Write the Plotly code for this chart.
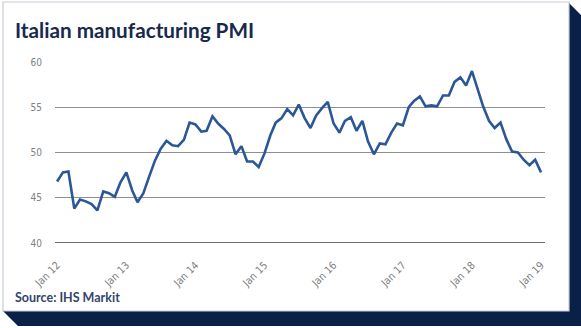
import plotly.graph_objects as go
import pandas as pd

# Monthly Italian manufacturing PMI, Jan 2012 - Jan 2019
months = pd.date_range("2012-01-01", "2019-01-01", freq="MS").strftime("%Y-%m-%d").tolist()
pmi = [
    46.8, 47.8, 47.9, 43.8, 44.8, 44.6, 44.3, 43.6, 45.7, 45.5, 45.1, 46.7,   # 2012
    47.8, 45.8, 44.5, 45.5, 47.3, 49.1, 50.4, 51.3, 50.8, 50.7, 51.4, 53.3,   # 2013
    53.1, 52.3, 52.4, 54.0, 53.2, 52.6, 51.9, 49.8, 50.7, 49.0, 49.0, 48.4,   # 2014
    49.9, 51.9, 53.3, 53.8, 54.8, 54.1, 55.3, 53.8, 52.7, 54.1, 54.9, 55.6,   # 2015
    53.2, 52.2, 53.5, 53.9, 52.4, 53.5, 51.2, 49.8, 51.0, 50.9, 52.2, 53.2,   # 2016
    53.0, 55.0, 55.7, 56.2, 55.1, 55.2, 55.1, 56.3, 56.3, 57.8, 58.3, 57.4,   # 2017
    59.0, 56.8, 55.1, 53.5, 52.7, 53.3, 51.5, 50.1, 50.0, 49.2, 48.6, 49.2,   # 2018
    47.8,                                                                     # 2019
]
tick_dates = ["2012-01-01", "2013-01-01", "2014-01-01", "2015-01-01",
              "2016-01-01", "2017-01-01", "2018-01-01", "2019-01-01"]
tick_labels = ["Jan 12", "Jan 13", "Jan 14", "Jan 15", "Jan 16", "Jan 17", "Jan 18", "Jan 19"]
y_ticks = [40, 45, 50, 55, 60]

W, H = 581, 328
L, R, T, B = 55, 545, 62, 243  # plot area in pixels


def xp(px):
    return (px - L) / (R - L)


def yp(py):
    return (B - py) / (B - T)


NAVY = "#0b2049"
LINE = "#2c5797"
COND = "DejaVu Sans Condensed, sans-serif"

fig = go.Figure()
fig.add_trace(go.Scatter(
    x=months, y=pmi, mode="lines",
    line=dict(color=LINE, width=2.6),
    hoverinfo="skip", showlegend=False,
))

shapes = []
# shadow
sx = [569, 581, 581, 18, 3, 569]
sy = [3, 15, 326, 326, 311, 311]
path = "M " + " L ".join(f"{xp(a):.5f},{yp(b):.5f}" for a, b in zip(sx, sy)) + " Z"
shapes.append(dict(type="path", xref="paper", yref="paper", path=path,
                   fillcolor=NAVY, line=dict(width=0), layer="below"))
# card
shapes.append(dict(type="rect", xref="paper", yref="paper",
                   x0=xp(3), x1=xp(569), y0=yp(311), y1=yp(2),
                   fillcolor="white", line=dict(color="#c9ccd6", width=1.2), layer="below"))
# darker baseline at 40
shapes.append(dict(type="line", xref="paper", yref="y", x0=0, x1=1, y0=40, y1=40,
                   line=dict(color="#3a3a3a", width=1.5), layer="below"))

annotations = [
    dict(text="<b>Italian manufacturing PMI</b>", xref="paper", yref="paper",
         x=xp(13), y=yp(30), xanchor="left", yanchor="middle", showarrow=False,
         font=dict(family="Lato, sans-serif", size=20.7, color="#17294d")),
    dict(text="<b>Source: IHS Markit</b>", xref="paper", yref="paper",
         x=xp(13), y=yp(297), xanchor="left", yanchor="middle", showarrow=False,
         font=dict(family="Lato, sans-serif", size=12.5, color="#33456b")),
]

fig.update_layout(
    width=W, height=H,
    margin=dict(l=L, r=W - R, t=T, b=H - B, pad=0),
    paper_bgcolor="white", plot_bgcolor="rgba(0,0,0,0)",
    shapes=shapes, annotations=annotations,
    showlegend=False,
    xaxis=dict(
        type="date", range=["2011-12-21", "2019-01-22"],
        tickvals=tick_dates, ticktext=tick_labels, tickangle=-45,
        showgrid=False, zeroline=False, showline=False,
        ticks="outside", ticklen=11, tickcolor="rgba(0,0,0,0)",
        tickfont=dict(family=COND, size=10.5, color="#808080"),
    ),
    yaxis=dict(
        range=[40, 60], tickvals=y_ticks, ticktext=[str(v) for v in y_ticks],
        showgrid=True, gridcolor="#8f8f8f", gridwidth=1.2,
        zeroline=False, showline=False,
        ticks="outside", ticklen=10, tickcolor="rgba(0,0,0,0)",
        tickfont=dict(family=COND, size=10, color="#808080"),
    ),
)

fig.write_html("out.html")
